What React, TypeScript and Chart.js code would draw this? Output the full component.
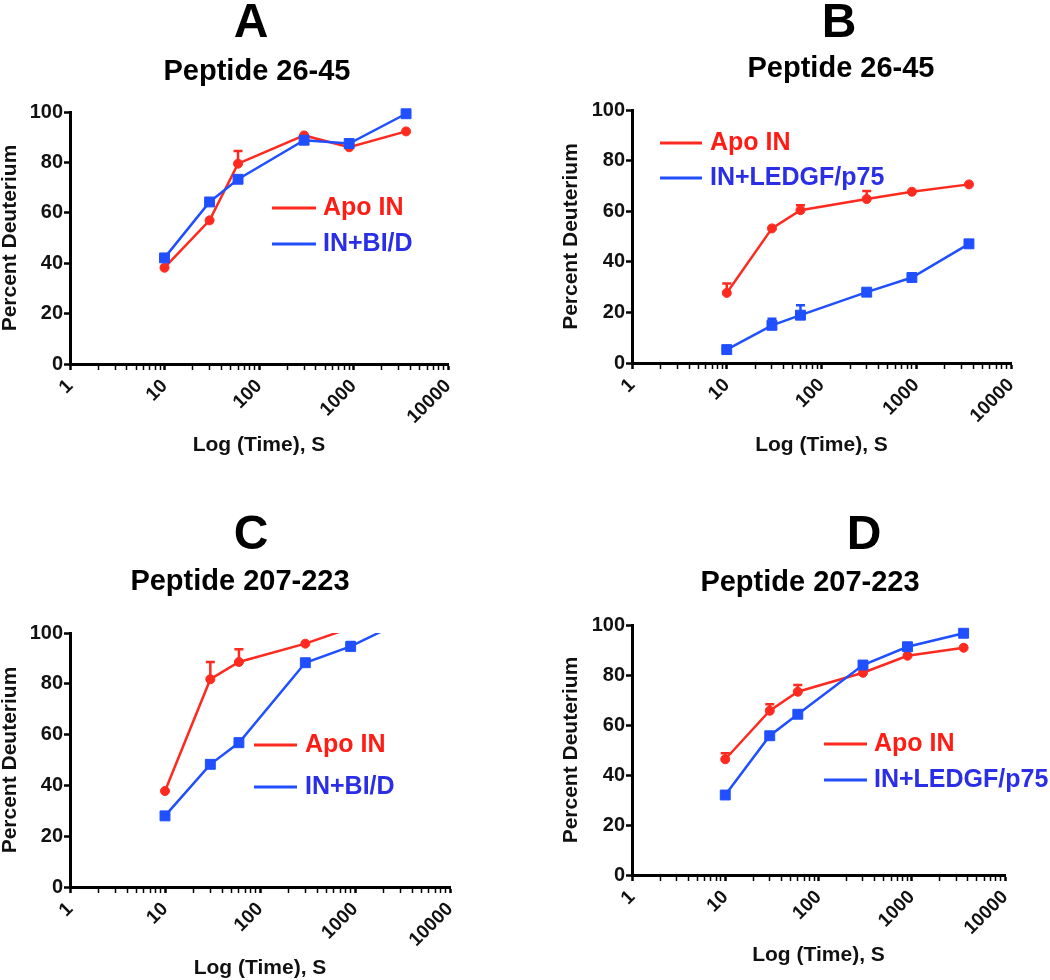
import React, { useEffect, useRef } from "react";
import { Chart, registerables } from "chart.js";

Chart.register(...registerables);

// ---------------- data ----------------
const timesSec = [10, 30, 60, 300, 900, 3600];
const decadeTicks = [1, 10, 100, 1000, 10000];
const minorMultipliers = [1, 2, 3, 4, 5, 6, 7, 8, 9];
const yTickValues = [0, 20, 40, 60, 80, 100];

const namesBid = ["Apo IN", "IN+BI/D"];
const namesLedgf = ["Apo IN", "IN+LEDGF/p75"];

// Panel A – Peptide 26-45, Apo IN vs IN+BI/D
const aApo = [38.2, 57, 79.5, 90.7, 86, 92.3];
const aApoErr = [0, 0, 5, 0, 0, 0];
const aBid = [42.1, 64.3, 73.3, 88.8, 87.5, 99.3];
const aBidErr = [0, 0, 0, 0, 0, 0];

// Panel B – Peptide 26-45, Apo IN vs IN+LEDGF/p75
const bApo = [27.7, 53.2, 60.4, 64.8, 67.7, 70.6];
const bApoErr = [3.7, 0, 2, 3.2, 0, 0];
const bLedgf = [5.3, 14.9, 18.9, 28, 33.8, 47.1];
const bLedgfErr = [0, 2.6, 3.9, 0, 0, 0];

// Panel C – Peptide 207-223, Apo IN vs IN+BI/D
const cApo = [37.8, 81.8, 88.6, 95.8, 102, null];
const cApoErr = [0, 6.8, 5, 0, 0, 0];
const cBid = [28, 48.3, 56.8, 88.3, 94.7, 105.7];
const cBidErr = [0, 0, 1.6, 0, 1.8, 0];

// Panel D – Peptide 207-223, Apo IN vs IN+LEDGF/p75
const dApo = [46.3, 65.7, 73.3, 80.9, 87.7, 90.9];
const dApoErr = [2.4, 2.6, 2.7, 0, 0, 0];
const dLedgf = [32, 55.7, 64.3, 84, 91.3, 96.7];
const dLedgfErr = [0, 0, 0, 0, 0, 0];

// ---------------- styles / layout ----------------
const FONT = "'Liberation Sans', Arial, Helvetica, sans-serif";
const RED = "#ff2a1f";
const BLUE = "#1f4fff";
const RED_TEXT = "#ff1c14";
const BLUE_TEXT = "#2a2ee6";
const INK = "#111111";
const PW = 525;
const PH = 490;

const xTickValues: number[] = [];
decadeTicks.slice(0, -1).forEach((d) => minorMultipliers.forEach((m) => xTickValues.push(d * m)));
xTickValues.push(decadeTicks[decadeTicks.length - 1]);

type PanelDef = {
  letter: string;
  title: string;
  left: number;
  top: number;
  area: { l: number; r: number; t: number; b: number };
  padL: number;
  padB: number;
  letterPos: [number, number];
  titlePos: [number, number];
  legend: { x1: number; x2: number; ys: [number, number]; tx: number };
  names: string[];
  apo: (number | null)[];
  apoErr: number[];
  other: (number | null)[];
  otherErr: number[];
  clipTop: number;
};

const panels: PanelDef[] = [
  {
    letter: "A", title: "Peptide 26-45", left: 0, top: 0,
    area: { l: 70, r: 448, t: 112, b: 364 }, padL: 0, padB: 34,
    letterPos: [251, 37], titlePos: [257, 80],
    legend: { x1: 272, x2: 316, ys: [208, 244], tx: 323 },
    names: namesBid, apo: aApo, apoErr: aApoErr, other: aBid, otherErr: aBidErr, clipTop: 10,
  },
  {
    letter: "B", title: "Peptide 26-45", left: 525, top: 0,
    area: { l: 107, r: 486, t: 110, b: 363 }, padL: 36, padB: 34,
    letterPos: [314, 37], titlePos: [316, 77],
    legend: { x1: 135, x2: 177, ys: [143, 178], tx: 185 },
    names: namesLedgf, apo: bApo, apoErr: bApoErr, other: bLedgf, otherErr: bLedgfErr, clipTop: 10,
  },
  {
    letter: "C", title: "Peptide 207-223", left: 0, top: 490,
    area: { l: 70, r: 450, t: 143, b: 397 }, padL: 0, padB: 1,
    letterPos: [251, 59], titlePos: [240, 100],
    legend: { x1: 254, x2: 297, ys: [255, 297], tx: 305 },
    names: namesBid, apo: cApo, apoErr: cApoErr, other: cBid, otherErr: cBidErr, clipTop: 0,
  },
  {
    letter: "D", title: "Peptide 207-223", left: 525, top: 490,
    area: { l: 107, r: 480, t: 135, b: 385 }, padL: 36, padB: 14,
    letterPos: [339, 59], titlePos: [285, 101],
    legend: { x1: 299, x2: 342, ys: [254, 290], tx: 349 },
    names: namesLedgf, apo: dApo, apoErr: dApoErr, other: dLedgf, otherErr: dLedgfErr, clipTop: 10,
  },
];

const decorPlugin = {
  id: "panelDecor",
  beforeDatasetsDraw(chart: any) {
    const ctx = chart.ctx;
    const yScale = chart.scales.y;
    chart.data.datasets.forEach((ds: any, di: number) => {
      const meta = chart.getDatasetMeta(di);
      const errs: number[] = ds.errTop || [];
      ctx.save();
      ctx.strokeStyle = ds.borderColor;
      ctx.lineWidth = 2.5;
      errs.forEach((e, i) => {
        const v = ds.data[i]?.y;
        if (!e || v == null || !meta.data[i]) return;
        const x = meta.data[i].x;
        const y0 = yScale.getPixelForValue(v);
        const y1 = yScale.getPixelForValue(v + e);
        ctx.beginPath();
        ctx.moveTo(x, y0);
        ctx.lineTo(x, y1);
        ctx.moveTo(x - 4.5, y1);
        ctx.lineTo(x + 4.5, y1);
        ctx.stroke();
      });
      ctx.restore();
    });
  },
  afterDraw(chart: any, _args: any, opts: any) {
    const ctx = chart.ctx;
    const p: PanelDef = opts.panel;
    ctx.save();
    ctx.fillStyle = "#000";
    ctx.textAlign = "center";
    ctx.textBaseline = "alphabetic";
    ctx.font = `bold 48px ${FONT}`;
    ctx.fillText(p.letter, p.letterPos[0], p.letterPos[1]);
    ctx.font = `bold 29px ${FONT}`;
    ctx.fillText(p.title, p.titlePos[0], p.titlePos[1]);
    // legend
    const textColors = [RED_TEXT, BLUE_TEXT];
    chart.data.datasets.forEach((ds: any, i: number) => {
      const y = p.legend.ys[i];
      ctx.strokeStyle = ds.borderColor;
      ctx.lineWidth = 3;
      ctx.beginPath();
      ctx.moveTo(p.legend.x1, y);
      ctx.lineTo(p.legend.x2, y);
      ctx.stroke();
      ctx.fillStyle = textColors[i];
      ctx.font = `bold 25px ${FONT}`;
      ctx.textAlign = "left";
      ctx.textBaseline = "middle";
      ctx.fillText(ds.label, p.legend.tx, y);
    });
    ctx.restore();
  },
};

function PanelChart({ p }: { p: PanelDef }) {
  const ref = useRef<HTMLCanvasElement | null>(null);
  useEffect(() => {
    if (!ref.current) return;
    const clip = { left: 12, right: 12, bottom: 12, top: p.clipTop };
    const titleFont = { family: FONT, size: 21, weight: "bold" as const, lineHeight: 1 };
    const chart = new Chart(ref.current, {
      type: "line",
      data: {
        datasets: [
          {
            label: p.names[0],
            data: timesSec.map((t, i) => ({ x: t, y: p.apo[i] })),
            errTop: p.apoErr,
            borderColor: RED,
            backgroundColor: RED,
            pointBackgroundColor: RED,
            pointBorderColor: RED,
            pointStyle: "circle",
            pointRadius: 4.5,
            pointBorderWidth: 1,
            borderWidth: 2.5,
            tension: 0,
            clip,
            order: 1,
          } as any,
          {
            label: p.names[1],
            data: timesSec.map((t, i) => ({ x: t, y: p.other[i] })),
            errTop: p.otherErr,
            borderColor: BLUE,
            backgroundColor: BLUE,
            pointBackgroundColor: BLUE,
            pointBorderColor: BLUE,
            pointStyle: "rect",
            pointRadius: 7,
            pointBorderWidth: 1,
            borderWidth: 2.5,
            tension: 0,
            clip,
            order: 0,
          } as any,
        ],
      },
      options: {
        responsive: false,
        animation: false,
        devicePixelRatio: 1,
        layout: {
          padding: { left: p.padL, top: p.area.t, right: PW - p.area.r, bottom: p.padB },
        },
        plugins: {
          legend: { display: false },
          title: { display: false },
          tooltip: { enabled: false },
          panelDecor: { panel: p },
        } as any,
        scales: {
          x: {
            type: "logarithmic",
            position: "bottom",
            min: 1,
            max: 10000,
            afterBuildTicks: (s: any) => {
              s.ticks = xTickValues.map((v) => ({ value: v, major: decadeTicks.includes(v) }));
            },
            afterFit: (s: any) => {
              s.height = PH - p.padB - p.area.b;
            },
            ticks: {
              autoSkip: false,
              minRotation: 45,
              maxRotation: 45,
              padding: 5,
              color: INK,
              font: { family: FONT, size: 19, weight: "bold" as const },
              callback: (v: any) => (decadeTicks.includes(Number(v)) ? String(v) : ""),
            },
            grid: {
              display: true,
              drawOnChartArea: false,
              drawTicks: true,
              tickLength: 6,
              tickColor: "#000",
              tickWidth: (c: any) => (c.tick && decadeTicks.includes(c.tick.value) ? 2.5 : 1.5),
            },
            border: { display: true, color: "#000", width: 3 },
            title: { display: true, text: "Log (Time), S", color: INK, font: titleFont, padding: 0 },
          },
          y: {
            type: "linear",
            min: 0,
            max: 100,
            afterBuildTicks: (s: any) => {
              s.ticks = yTickValues.map((v) => ({ value: v }));
            },
            afterFit: (s: any) => {
              s.width = p.area.l - p.padL;
            },
            ticks: { padding: 1, color: INK, font: { family: FONT, size: 20, weight: "bold" as const } },
            grid: {
              display: true,
              drawOnChartArea: false,
              drawTicks: true,
              tickLength: 6,
              tickColor: "#000",
              tickWidth: 2.5,
            },
            border: { display: true, color: "#000", width: 3 },
            title: { display: true, text: "Percent Deuterium", color: INK, font: titleFont, padding: 0 },
          },
        },
      } as any,
      plugins: [decorPlugin as any],
    });
    return () => chart.destroy();
  }, [p]);
  return (
    <div style={{ position: "absolute", left: p.left, top: p.top, width: PW, height: PH }}>
      <canvas ref={ref} width={PW} height={PH} style={{ width: PW, height: PH, display: "block" }} />
    </div>
  );
}

export default function App() {
  return (
    <div style={{ position: "absolute", left: 0, top: 0, width: 1050, height: 980, background: "#fff", overflow: "hidden" }}>
      {panels.map((p) => (
        <PanelChart key={p.letter} p={p} />
      ))}
    </div>
  );
}
